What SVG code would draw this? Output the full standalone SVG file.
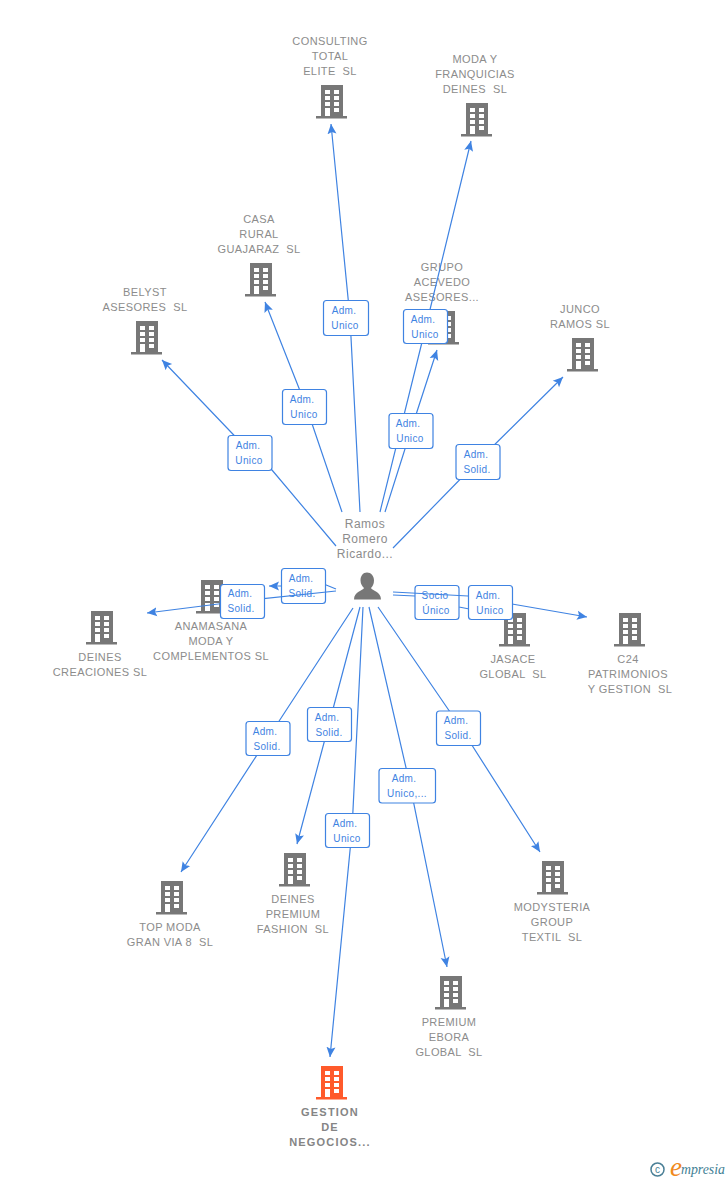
<svg xmlns="http://www.w3.org/2000/svg" width="728" height="1180" viewBox="0 0 728 1180">
<style>
text{font-family:"Liberation Sans",Arial,sans-serif}
.n{font-size:11px;fill:#8c8c8c;text-anchor:middle;letter-spacing:.4px;white-space:pre}
.b{font-weight:bold;letter-spacing:1.2px;fill:#858585}
.p{font-size:12px;letter-spacing:.5px}
.l{fill:none;stroke:#3f83e2;stroke-width:1.2;marker-end:url(#a)}
.box{fill:#fff;stroke:#3f83e2;stroke-width:1.2}
.t{font-size:10px;fill:#3f83e2;text-anchor:middle;letter-spacing:.35px}
</style>
<defs>
<marker id="a" markerUnits="userSpaceOnUse" markerWidth="12" markerHeight="12" refX="10" refY="5" orient="auto" viewBox="0 0 12 10">
<path d="M0,0.5L10,5L0,9.5L2,5Z" fill="#3f83e2"/>
</marker>
<symbol id="bld" viewBox="0 0 32 34" width="32" height="34" overflow="visible">
<path fill-rule="evenodd" d="M5,0H27V31H31V33.5H0V31H5ZM9,5V9H14V5ZM18,5V9H23V5ZM9,11V15H14V11ZM18,11V15H23V11ZM9,17V21H14V17ZM18,17V21H23V17ZM9,23V31H14V23ZM18,23V27H23V23Z"/>
</symbol>
</defs>
<rect width="728" height="1180" fill="#fff"/>
<g id="node-consulting" fill="#777"><use href="#bld" x="316" y="85"/><text class="n"><tspan x="330" y="45">CONSULTING</tspan><tspan x="330" y="60">TOTAL</tspan><tspan x="330" y="75">ELITE  SL</tspan></text></g>
<g id="node-moda" fill="#777"><use href="#bld" x="461" y="103"/><text class="n"><tspan x="475" y="63">MODA Y</tspan><tspan x="475" y="78">FRANQUICIAS</tspan><tspan x="475" y="93">DEINES  SL</tspan></text></g>
<g id="node-casa" fill="#777"><use href="#bld" x="245" y="263"/><text class="n"><tspan x="259" y="223">CASA</tspan><tspan x="259" y="238">RURAL</tspan><tspan x="259" y="253">GUAJARAZ  SL</tspan></text></g>
<g id="node-belyst" fill="#777"><use href="#bld" x="131" y="321"/><text class="n"><tspan x="145" y="296">BELYST</tspan><tspan x="145" y="311">ASESORES  SL</tspan></text></g>
<g id="node-grupo" fill="#777"><use href="#bld" x="428" y="311"/><text class="n"><tspan x="442" y="271">GRUPO</tspan><tspan x="442" y="286">ACEVEDO</tspan><tspan x="442" y="301">ASESORES...</tspan></text></g>
<g id="node-junco" fill="#777"><use href="#bld" x="567" y="338"/><text class="n"><tspan x="580" y="313">JUNCO</tspan><tspan x="580" y="328">RAMOS SL</tspan></text></g>
<g id="node-anamasana" fill="#777"><use href="#bld" x="196" y="580"/><text class="n"><tspan x="211" y="630">ANAMASANA</tspan><tspan x="211" y="645">MODA Y</tspan><tspan x="211" y="660">COMPLEMENTOS SL</tspan></text></g>
<g id="node-deines-creaciones" fill="#777"><use href="#bld" x="86" y="611"/><text class="n"><tspan x="100" y="661">DEINES</tspan><tspan x="100" y="676">CREACIONES SL</tspan></text></g>
<g id="node-jasace" fill="#777"><use href="#bld" x="499" y="613"/><text class="n"><tspan x="513" y="663">JASACE</tspan><tspan x="513" y="678">GLOBAL  SL</tspan></text></g>
<g id="node-c24" fill="#777"><use href="#bld" x="614" y="613"/><text class="n"><tspan x="628" y="663">C24</tspan><tspan x="628" y="678">PATRIMONIOS</tspan><tspan x="630" y="693">Y GESTION  SL</tspan></text></g>
<g id="node-topmoda" fill="#777"><use href="#bld" x="156" y="881"/><text class="n"><tspan x="170" y="931">TOP MODA</tspan><tspan x="170" y="946">GRAN VIA 8  SL</tspan></text></g>
<g id="node-deines-premium" fill="#777"><use href="#bld" x="279" y="853"/><text class="n"><tspan x="293" y="903">DEINES</tspan><tspan x="293" y="918">PREMIUM</tspan><tspan x="293" y="933">FASHION  SL</tspan></text></g>
<g id="node-modysteria" fill="#777"><use href="#bld" x="537" y="861"/><text class="n"><tspan x="552" y="911">MODYSTERIA</tspan><tspan x="552" y="926">GROUP</tspan><tspan x="552" y="941">TEXTIL  SL</tspan></text></g>
<g id="node-ebora" fill="#777"><use href="#bld" x="435" y="976"/><text class="n"><tspan x="449" y="1026">PREMIUM</tspan><tspan x="449" y="1041">EBORA</tspan><tspan x="449" y="1056">GLOBAL  SL</tspan></text></g>
<g id="node-gestion" fill="#ff5a2b"><use href="#bld" x="316" y="1066"/><text class="n b"><tspan x="330" y="1116">GESTION</tspan><tspan x="330" y="1131">DE</tspan><tspan x="330" y="1146">NEGOCIOS...</tspan></text></g>
<g id="node-person" fill="#777">
<path d="M367,572.500C371,572.500 374,576 374,580.500C374,584 372.500,586.500 371,588C372,590.500 381,591.500 381,599.500H354C354,591.500 363,590.500 364,588C362.500,586.500 360.500,584 360.500,580.500C360.500,576 363,572.500 367,572.500Z"/>
<text class="n p"><tspan x="365" y="528">Ramos</tspan><tspan x="365" y="543">Romero</tspan><tspan x="365" y="558">Ricardo...</tspan></text>
</g>
<g id="connectors">
<path class="l" d="M336,589L325,584.500L303,586H269"/>
<rect class="box" x="281.500" y="568.500" width="44" height="35" rx="3"/><text class="t"><tspan x="301" y="582">Adm.</tspan><tspan x="302" y="597">Solid.</tspan></text>
<path class="l" d="M336,591L242,601L147,613"/>
<rect class="box" x="220.500" y="584.500" width="44" height="34" rx="3"/><text class="t"><tspan x="240" y="597">Adm.</tspan><tspan x="241" y="612">Solid.</tspan></text>
<path class="l" d="M360,512L350,318L331,124"/>
<rect class="box" x="323.500" y="300.500" width="45" height="35" rx="3"/><text class="t"><tspan x="344" y="314">Adm.</tspan><tspan x="345" y="329">Unico</tspan></text>
<path class="l" d="M380,512L426,326L471,141"/>
<rect class="box" x="403.500" y="309.500" width="44" height="34" rx="3"/><text class="t"><tspan x="423" y="323">Adm.</tspan><tspan x="425" y="338">Unico</tspan></text>
<path class="l" d="M342,512L306,406L265,302"/>
<rect class="box" x="282.500" y="389.500" width="44" height="35" rx="3"/><text class="t"><tspan x="302" y="403">Adm.</tspan><tspan x="304" y="418">Unico</tspan></text>
<path class="l" d="M336,546L272,470L250,452L162,360"/>
<rect class="box" x="228" y="435.500" width="44" height="35" rx="3"/><text class="t"><tspan x="248" y="449">Adm.</tspan><tspan x="249" y="464">Unico</tspan></text>
<path class="l" d="M385,512L411,430L437,350"/>
<rect class="box" x="389" y="413.500" width="44" height="35" rx="3"/><text class="t"><tspan x="408" y="427">Adm.</tspan><tspan x="410" y="442">Unico</tspan></text>
<path class="l" d="M393,548L478,461L563,377"/>
<rect class="box" x="456" y="444.500" width="44" height="35" rx="3"/><text class="t"><tspan x="476" y="458">Adm.</tspan><tspan x="477" y="473">Solid.</tspan></text>
<path class="l" d="M393,595L415,596L459,607L490,613"/>
<rect class="box" x="415" y="585.500" width="44" height="34" rx="3"/><text class="t"><tspan x="435" y="599">Socio</tspan><tspan x="436" y="614">Único</tspan></text>
<path class="l" d="M393,592L468,596L512,604L587,617"/>
<rect class="box" x="468.500" y="585.500" width="44" height="34" rx="3"/><text class="t"><tspan x="488" y="599">Adm.</tspan><tspan x="490" y="614">Unico</tspan></text>
<path class="l" d="M353,608L268,738L181,872"/>
<rect class="box" x="246" y="721.500" width="44" height="34" rx="3"/><text class="t"><tspan x="265" y="735">Adm.</tspan><tspan x="267" y="750">Solid.</tspan></text>
<path class="l" d="M360,607L329,724L297,844"/>
<rect class="box" x="307.500" y="707.500" width="44" height="34" rx="3"/><text class="t"><tspan x="327" y="721">Adm.</tspan><tspan x="329" y="736">Solid.</tspan></text>
<path class="l" d="M363,607L352,830L330,1057"/>
<rect class="box" x="325.500" y="813.500" width="44" height="34" rx="3"/><text class="t"><tspan x="345" y="827">Adm.</tspan><tspan x="347" y="842">Unico</tspan></text>
<path class="l" d="M369,607L410,785L447,967"/>
<rect class="box" x="379" y="768.500" width="56.500" height="34.500" rx="3"/><text class="t"><tspan x="404" y="782">Adm.</tspan><tspan x="407" y="797">Unico,...</tspan></text>
<path class="l" d="M378,607L461,728L540,852"/>
<rect class="box" x="436.500" y="711" width="44" height="34.500" rx="3"/><text class="t"><tspan x="456" y="724">Adm.</tspan><tspan x="458" y="739">Solid.</tspan></text>
</g>
<g id="logo">
<circle cx="657.500" cy="1169.500" r="6.500" fill="none" stroke="#4a7f96" stroke-width="1.500"/>
<text x="657.500" y="1173" font-size="10" fill="#4a7f96" text-anchor="middle">c</text>
<text x="670" y="1176" font-size="27" font-style="italic" fill="#f08a1d" style="font-family:'Liberation Serif',serif">e</text>
<text x="681" y="1174" font-size="13.800" font-style="italic" fill="#3f7f95" style="font-family:'Liberation Serif',serif">mpresia</text>
</g>
</svg>
